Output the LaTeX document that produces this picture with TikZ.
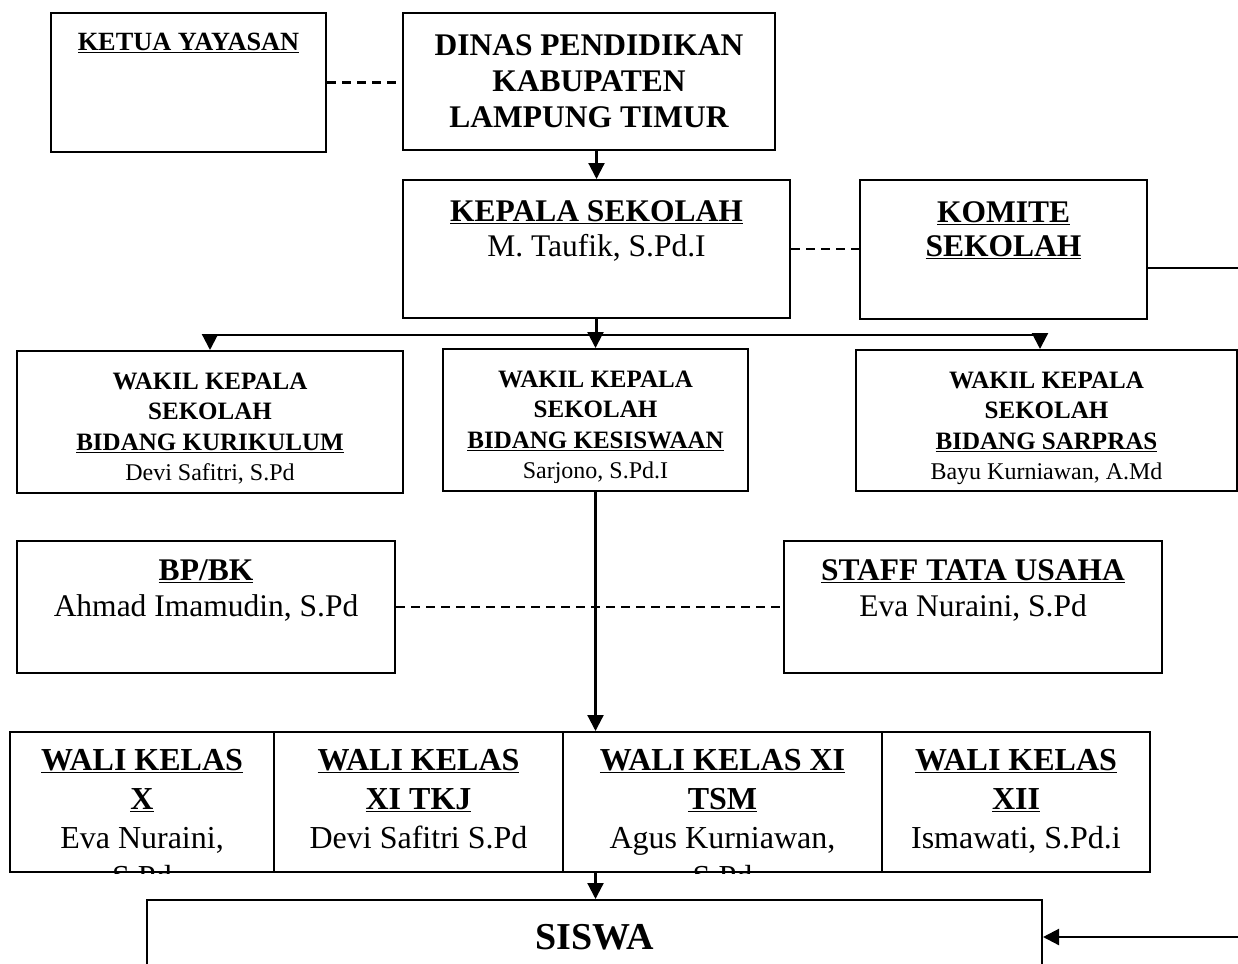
\documentclass[tikz,border=0pt]{standalone}
\usepackage{fontspec}
\setmainfont{Liberation Serif}
\usetikzlibrary{arrows.meta}

% kotak teks rata atas: lebar, tinggi, jarak atas, isi
\newcommand{\boxtext}[4]{\parbox[c][#2][t]{#1}{\centering\vspace*{#3}#4\par}}

\begin{document}
\begin{tikzpicture}[x=1pt,y=-1pt,
  box/.style={draw,line width=2pt,inner sep=0pt},
  link/.style={line width=2.2pt},
  putus/.style={line width=2.2pt,dash pattern=on 9pt off 6pt},
  arr/.style={line width=2.2pt,-{Triangle[width=16pt,length=16pt]}}]
\useasboundingbox (0,0) rectangle (1238,963);
%Baris atas
\node[box] (ketua) at (188.5,82.5) {\boxtext{275pt}{139pt}{20.5pt}{\fontsize{26.3}{30}\selectfont\bfseries\underline{KETUA YAYASAN}}};
\node[box] (dinas) at (589,81.5) {\boxtext{372pt}{137pt}{21.5pt}{\fontsize{31.5}{36}\selectfont\bfseries DINAS PENDIDIKAN\\KABUPATEN\\LAMPUNG TIMUR}};
\draw[putus] (ketua.east) -- (dinas.west |- ketua.east);
%Kepala sekolah dan komite
\node[box] (kepala) at (596.5,249) {\boxtext{387pt}{138pt}{20.5pt}{\fontsize{31.5}{35}\selectfont\bfseries\underline{KEPALA SEKOLAH}\\\mdseries M. Taufik, S.Pd.I}};
\node[box] (komite) at (1003.5,249.5) {\boxtext{287pt}{139pt}{21.5pt}{\fontsize{31.5}{34}\selectfont\bfseries\underline{KOMITE}\\\underline{SEKOLAH}}};
\draw[arr] (dinas.south -| kepala.north) -- (kepala.north);
\draw[putus] (kepala.east) -- (komite.west |- kepala.east);
%Wakil kepala sekolah
\node[box] (wakilA) at (210,422) {\boxtext{386pt}{142pt}{21.7pt}{\fontsize{25}{30.5}\selectfont\bfseries WAKIL KEPALA\\SEKOLAH\\\underline{BIDANG KURIKULUM}\\\fontsize{24}{30.5}\selectfont\mdseries Devi Safitri, S.Pd}};
\node[box] (wakilB) at (595.5,420) {\boxtext{305pt}{142pt}{21.7pt}{\fontsize{25}{30.5}\selectfont\bfseries WAKIL KEPALA\\SEKOLAH\\\underline{BIDANG KESISWAAN}\\\fontsize{24}{30.5}\selectfont\mdseries Sarjono, S.Pd.I}};
\node[box] (wakilC) at (1046.5,420.5) {\boxtext{381pt}{141pt}{21.7pt}{\fontsize{25}{30.5}\selectfont\bfseries WAKIL KEPALA\\SEKOLAH\\\underline{BIDANG SARPRAS}\\\fontsize{24}{30.5}\selectfont\mdseries Bayu Kurniawan, A.Md}};
\draw[link] (kepala.south) -- (kepala.south |- 0,335) coordinate (bar);
\draw[link] (wakilA.north |- bar) -- ([xshift=-6.5pt]wakilC.north |- bar);
\draw[arr] (wakilA.north |- bar) -- (wakilA.north);
\draw[arr] (wakilB.north |- bar) -- (wakilB.north);
\draw[arr] ([xshift=-6.5pt]wakilC.north |- bar) -- ([xshift=-6.5pt]wakilC.north);
%BP/BK dan tata usaha
\node[box] (bpbk) at (206,607) {\boxtext{378pt}{132pt}{18.5pt}{\fontsize{31.5}{36}\selectfont\bfseries\underline{BP/BK}\\\mdseries Ahmad Imamudin, S.Pd}};
\node[box] (staff) at (973,607) {\boxtext{378pt}{132pt}{18.5pt}{\fontsize{31.5}{36}\selectfont\bfseries\underline{STAFF TATA USAHA}\\\mdseries Eva Nuraini, S.Pd}};
%Wali kelas
\begin{scope}
\clip (9,731) rectangle (1151,873);
\node[box] (waliA) at (142,802) {\boxtext{264pt}{140pt}{17.5pt}{\fontsize{32}{39}\selectfont\bfseries\underline{WALI KELAS}\\\underline{X}\\\mdseries Eva Nuraini,\\S.Pd}};
\node[box] (waliB) at (418.5,802) {\boxtext{289pt}{140pt}{17.5pt}{\fontsize{32}{39}\selectfont\bfseries\underline{WALI KELAS}\\\underline{XI TKJ}\\\mdseries Devi Safitri S.Pd}};
\node[box] (waliC) at (722.5,802) {\boxtext{319pt}{140pt}{17.5pt}{\fontsize{32}{39}\selectfont\bfseries\underline{WALI KELAS XI}\\\underline{TSM}\\\mdseries Agus Kurniawan,\\S.Pd}};
\node[box] (waliD) at (1016,802) {\boxtext{268pt}{140pt}{17.5pt}{\fontsize{32}{39}\selectfont\bfseries\underline{WALI KELAS}\\\underline{XII}\\\mdseries Ismawati, S.Pd.i}};
\end{scope}
\draw[arr] (wakilB.south) -- (wakilB.south |- waliC.north);
\draw[putus] (bpbk.east) -- (staff.west);
%Siswa
\node[box] (siswa) at (594.5,937) {\boxtext{895pt}{74pt}{24.5pt}{\fontsize{38}{44}\selectfont\bfseries SISWA}};
\draw[arr] (wakilB.south |- waliC.south) -- (wakilB.south |- siswa.north);
\coordinate (tepi) at (1250,268);
\draw[arr] ([yshift=-18.5pt]komite.east) -- (tepi) -- (tepi |- siswa.east) -- (siswa.east);
\end{tikzpicture}
\end{document}
